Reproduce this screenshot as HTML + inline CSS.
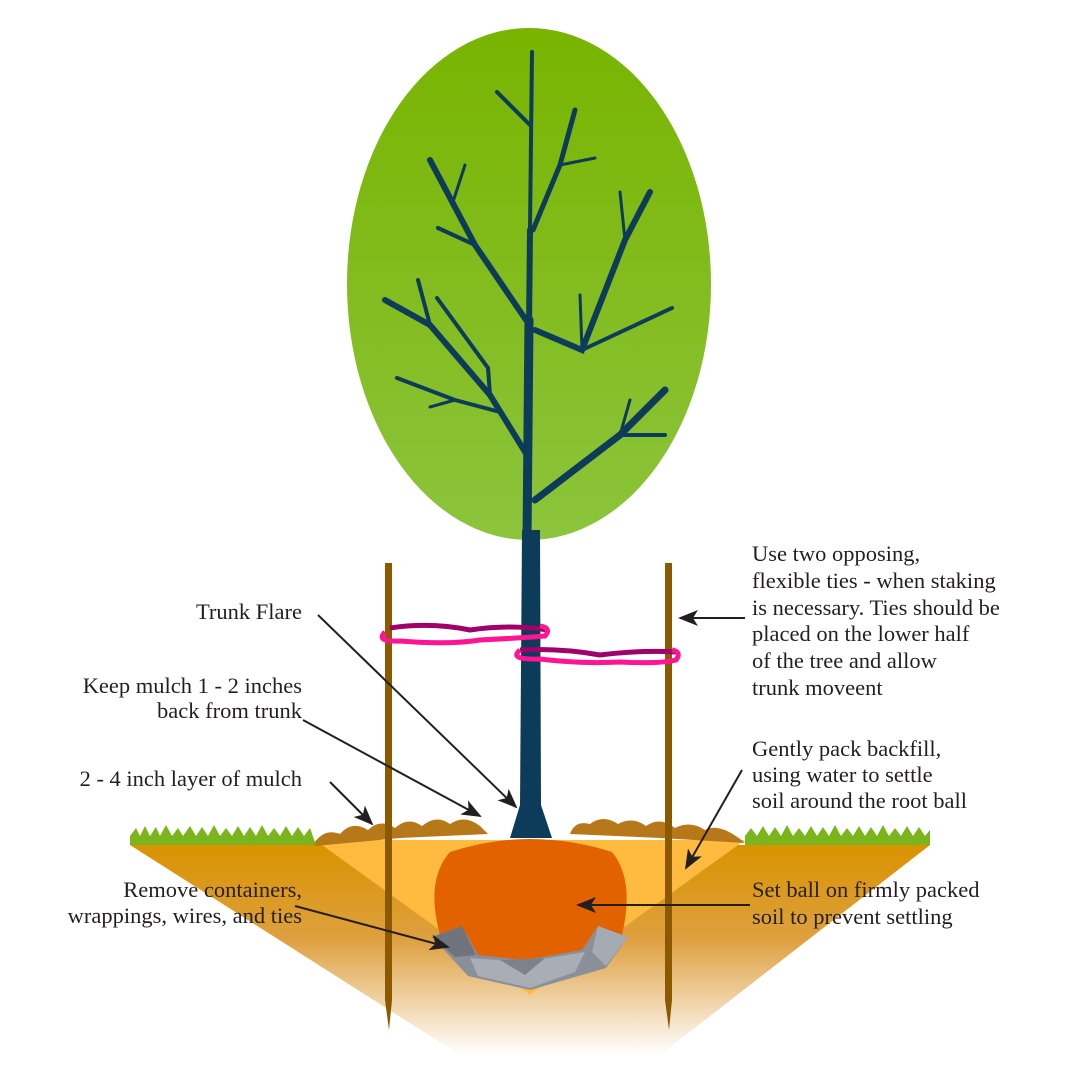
<!DOCTYPE html>
<html><head><meta charset="utf-8"><style>
html,body{margin:0;padding:0;background:#fff;}
svg{display:block}
text{font-family:"Liberation Serif",serif;font-size:22.5px;fill:#231f20}
</style></head><body>
<svg width="1080" height="1078" viewBox="0 0 1080 1078" xmlns="http://www.w3.org/2000/svg">
<defs>
<linearGradient id="leaf" x1="0" y1="0" x2="0" y2="1">
<stop offset="0" stop-color="#78b400"/><stop offset="1" stop-color="#8cc43c"/></linearGradient>
<linearGradient id="soil" x1="0" y1="0" x2="0" y2="1">
<stop offset="0" stop-color="#d99300"/><stop offset="0.45" stop-color="#dea040"/><stop offset="1" stop-color="#ffffff"/></linearGradient>
<marker id="ah" markerWidth="20" markerHeight="16" refX="18" refY="8" orient="auto" markerUnits="userSpaceOnUse" viewBox="0 0 20 16">
<path d="M0,0 L20,8 L0,16 L5,8 Z" fill="#231f20"/></marker>
</defs>
<ellipse cx="529" cy="284" rx="182" ry="256" fill="url(#leaf)"/>
<polygon points="130,845 930,845 660,1055 460,1055" fill="url(#soil)"/>
<polygon points="315,840 745,840 530,995" fill="#ffbb40"/>
<!-- mulch -->
<path d="M315,842 Q325,828 340,834 Q352,820 368,830 Q380,818 395,828 Q408,816 422,826 Q436,814 450,824 Q465,814 480,826 L488,834 L400,838 L315,846 Z" fill="#b7781a"/>
<path d="M570,834 Q575,820 590,824 Q603,814 618,824 Q632,816 646,826 Q660,816 675,828 Q690,820 705,830 Q720,822 745,843 L660,838 Z" fill="#b7781a"/>
<!-- grass -->
<path d="M130,845 L130,836 L136,828 L140,836 L145,826 L150,836 L156,827 L160,836 L166,825 L172,836 L178,828 L183,836 L190,826 L196,836 L202,827 L208,836 L214,825 L220,836 L226,828 L232,836 L238,826 L244,836 L250,827 L256,836 L262,825 L268,836 L274,828 L280,836 L286,826 L292,836 L298,827 L304,836 L310,828 L316,845 Z" fill="#7ab51d"/>
<path d="M745,845 L745,836 L751,828 L757,836 L763,826 L769,836 L775,827 L781,836 L787,825 L793,836 L799,828 L805,836 L811,826 L817,836 L823,827 L829,836 L835,825 L841,836 L847,828 L853,836 L859,826 L865,836 L871,827 L877,836 L883,825 L889,836 L895,828 L901,836 L907,826 L913,836 L919,827 L925,836 L930,830 L930,845 Z" fill="#7ab51d"/>
<!-- root ball -->
<path d="M450,852 Q530,826 612,852 Q635,880 622,935 Q600,975 530,975 Q455,975 440,935 Q425,880 450,852 Z" fill="#e36200"/>
<!-- gravel -->
<path d="M432,937 L462,926 L478,955 L525,960 L582,950 L598,926 L628,937 L606,968 L530,990 L468,976 Z" fill="#8a8f99"/>
<path d="M470,958 L525,962 L585,952 L575,972 L530,988 L478,976 Z" fill="#a8adb6"/>
<path d="M432,937 L462,926 L476,955 L455,957 Z" fill="#6f737c"/>
<path d="M598,926 L628,937 L606,966 L592,952 Z" fill="#a5aab3"/>
<path d="M500,960 L525,975 L545,958 Z" fill="#7d818a"/>
<!-- stakes -->
<polygon points="385,563 392,563 392,1000 389,1030 385,1000" fill="#8b5a00"/>
<polygon points="665,563 672,563 672,1000 669,1030 665,1000" fill="#8b5a00"/>
<!-- branches -->
<g stroke="#0d3b5a" stroke-linecap="round" fill="none">
<path d="M532,52 L530,230" stroke-width="4"/>
<path d="M530,230 L529,330" stroke-width="6"/>
<path d="M529,320 L527,540" stroke-width="9"/>
<path d="M526,320 L475,245 L430,160" stroke-width="6"/>
<path d="M475,245 L438,228" stroke-width="4"/>
<path d="M452,205 L465,165" stroke-width="3"/>
<path d="M530,125 L497,92" stroke-width="4"/>
<path d="M533,230 L560,165 L575,110" stroke-width="5"/>
<path d="M560,165 L595,158" stroke-width="3"/>
<path d="M535,330 L582,350 L625,240 L650,192" stroke-width="6"/>
<path d="M582,350 L672,308" stroke-width="4"/>
<path d="M582,350 L580,295" stroke-width="3"/>
<path d="M625,240 L620,192" stroke-width="3"/>
<path d="M527,455 L490,395 L430,325 L385,300" stroke-width="6"/>
<path d="M430,325 L418,280" stroke-width="4"/>
<path d="M490,395 L488,368 L437,298" stroke-width="4"/>
<path d="M500,412 L455,400 L397,378" stroke-width="4"/>
<path d="M455,400 L430,407" stroke-width="3"/>
<path d="M535,500 L620,435 L665,390" stroke-width="7"/>
<path d="M620,435 L665,435" stroke-width="4"/>
<path d="M620,435 L630,400" stroke-width="3"/>
</g>
<polygon points="522,530 540,530 541,805 552,838 510,838 520,805" fill="#0d3b5a"/>
<!-- ties -->
<path d="M390,628 Q430,622 470,630 Q510,624 548,630" stroke="#a0006a" stroke-width="5" fill="none"/>
<path d="M520,650 Q560,648 600,655 Q640,650 676,652" stroke="#a0006a" stroke-width="5" fill="none"/>
<path d="M385,632 Q375,642 400,641 Q450,645 480,640 Q520,638 545,636 Q552,628 540,626" stroke="#ff1493" stroke-width="5" fill="none"/>
<path d="M520,650 Q508,660 540,659 Q580,664 620,662 Q660,664 676,660 Q682,652 672,650" stroke="#ff1493" stroke-width="5" fill="none"/>
<!-- arrows -->
<g stroke="#231f20" stroke-width="2" fill="none" marker-end="url(#ah)">
<line x1="318" y1="615" x2="516" y2="807"/>
<line x1="303" y1="720" x2="480" y2="816"/>
<line x1="330" y1="782" x2="372" y2="824"/>
<line x1="295" y1="906" x2="448" y2="947"/>
<line x1="745" y1="618" x2="680" y2="618"/>
<line x1="742" y1="770" x2="686" y2="868"/>
<line x1="750" y1="905" x2="578" y2="905"/>
</g>
<g text-anchor="end">
<text x="302" y="619">Trunk Flare</text>
<text x="302" y="693">Keep mulch 1 - 2 inches</text>
<text x="302" y="718">back from trunk</text>
<text x="302" y="786">2 - 4 inch layer of mulch</text>
<text x="302" y="897">Remove containers,</text>
<text x="302" y="923">wrappings, wires, and ties</text>
</g>
<text x="752" y="561">Use two opposing,</text>
<text x="752" y="588">flexible ties - when staking</text>
<text x="752" y="615">is necessary. Ties should be</text>
<text x="752" y="641">placed on the lower half</text>
<text x="752" y="668">of the tree and allow</text>
<text x="752" y="695">trunk moveent</text>
<text x="752" y="756">Gently pack backfill,</text>
<text x="752" y="782">using water to settle</text>
<text x="752" y="808">soil around the root ball</text>
<text x="752" y="897">Set ball on firmly packed</text>
<text x="752" y="924">soil to prevent settling</text>
</svg>
</body></html>
